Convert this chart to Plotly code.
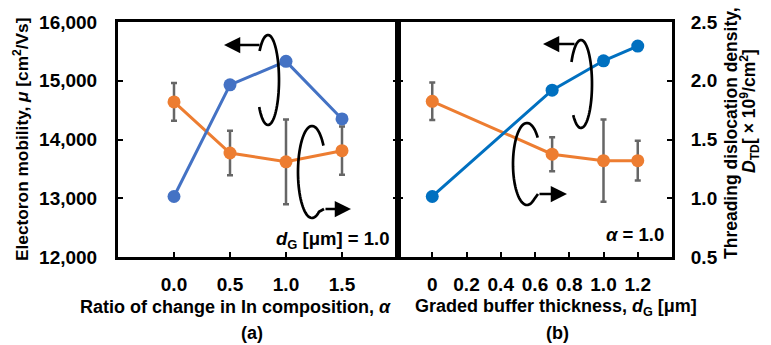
import math
import plotly.graph_objects as go

# ---------------- data ----------------
alpha = [0.0, 0.5, 1.0, 1.5]
mob_a = [13030, 14930, 15330, 14350]
tdd_a = [1.82, 1.385, 1.31, 1.405]
tdd_a_err = [0.16, 0.19, 0.36, 0.205]

dg = [0.0, 0.7, 1.0, 1.2]
mob_b = [13030, 14840, 15340, 15590]
tdd_b = [1.825, 1.375, 1.32, 1.32]
tdd_b_err = [0.16, 0.145, 0.35, 0.17]

mob_ticks = [12000, 13000, 14000, 15000, 16000]
tdd_ticks = [0.5, 1.0, 1.5, 2.0, 2.5]
alpha_ticks = [0.0, 0.5, 1.0, 1.5]
alpha_ticktext = ["0.0", "0.5", "1.0", "1.5"]
dg_ticks = [0.0, 0.2, 0.4, 0.6, 0.8, 1.0, 1.2]
dg_ticktext = ["0", "0.2", "0.4", "0.6", "0.8", "1.0", "1.2"]

# ---------------- layout helpers ----------------
W, H = 771, 345
L, R, T, B = 118, 99, 22, 88
PW, PH = W - L - R, H - T - B
SPLIT = (398 - L) / PW


def pp(x, y):
    return (x - L) / PW, (H - B - y) / PH


FONT = "Liberation Sans, Arial, sans-serif"
BLUE_A = "#4472C4"
BLUE_B = "#0070C0"
ORANGE = "#ED7D31"
GREY = "#666666"

fig = go.Figure()

# left panel
fig.add_trace(go.Scatter(x=alpha, y=tdd_a, xaxis="x", yaxis="y", mode="lines+markers",
                         line=dict(color=ORANGE, width=3), marker=dict(size=13, color=ORANGE),
                         error_y=dict(type="data", array=tdd_a_err, color=GREY, thickness=2.5, width=3),
                         showlegend=False))
fig.add_trace(go.Scatter(x=alpha, y=mob_a, xaxis="x", yaxis="y2", mode="lines+markers",
                         line=dict(color=BLUE_A, width=3), marker=dict(size=13, color=BLUE_A),
                         showlegend=False))
# right panel
fig.add_trace(go.Scatter(x=dg, y=tdd_b, xaxis="x2", yaxis="y3", mode="lines+markers",
                         line=dict(color=ORANGE, width=3), marker=dict(size=13, color=ORANGE),
                         error_y=dict(type="data", array=tdd_b_err, color=GREY, thickness=2.5, width=3),
                         showlegend=False))
fig.add_trace(go.Scatter(x=dg, y=mob_b, xaxis="x2", yaxis="y4", mode="lines+markers",
                         line=dict(color=BLUE_B, width=3), marker=dict(size=13, color=BLUE_B),
                         showlegend=False))

tickfont = dict(family=FONT, size=19, color="black", weight="bold")
axline = dict(showline=True, linecolor="black", linewidth=3, showgrid=False, zeroline=False,
              ticks="inside", ticklen=5, tickwidth=2, tickcolor="black")

fig.update_layout(
    width=W, height=H,
    margin=dict(l=L, r=R, t=T, b=B),
    paper_bgcolor="white", plot_bgcolor="white",
    font=dict(family=FONT, size=17, color="black", weight="bold"),
    xaxis=dict(domain=[0, SPLIT], range=[-0.5, 2.0], tickvals=alpha_ticks, ticktext=alpha_ticktext,
               mirror=True, tickfont=tickfont, ticklabelstandoff=8, **axline),
    yaxis=dict(range=[0.5, 2.5], anchor="x", visible=False),
    yaxis2=dict(range=[12000, 16000], anchor="x", overlaying="y", side="left", tickvals=mob_ticks,
                tickformat=",", mirror="ticks", tickfont=tickfont, ticklabelstandoff=14, **axline),
    xaxis2=dict(domain=[SPLIT, 1], range=[-0.2, 1.4], anchor="y3", tickvals=dg_ticks, ticktext=dg_ticktext,
                mirror=True, tickfont=tickfont, ticklabelstandoff=8, **axline),
    yaxis3=dict(range=[0.5, 2.5], anchor="x2", side="right", tickvals=tdd_ticks, tickformat=".1f",
                mirror="ticks", tickfont=tickfont, ticklabelstandoff=12, **axline),
    yaxis4=dict(range=[12000, 16000], anchor="x2", overlaying="y3", visible=False),
)


def ann(x, y, text, angle=0, xanchor="center", size=17):
    px_, py_ = pp(x, y)
    fig.add_annotation(x=px_, y=py_, xref="paper", yref="paper", text=text, showarrow=False,
                       textangle=angle, xanchor=xanchor, yanchor="middle",
                       font=dict(family=FONT, size=size, color="black", weight="bold"))


ann(21, 139, "Electoron mobility, <i>μ</i> [cm<sup>2</sup>/Vs]", angle=-90, size=17.3)
ann(731, 133, "Threading dislocation density,", angle=-90, size=17.5)
ann(749, 111, "<i>D</i><sub>TD</sub>[ × 10<sup>9</sup>/cm<sup>2</sup>]", angle=-90, size=17.5)
ann(235, 307, "Ratio of change in In composition, <i>α</i>", size=18)
ann(556, 307, "Graded buffer thickness, <i>d</i><sub>G</sub> [μm]", size=18)
ann(252, 333, "(a)", size=18)
ann(557, 333, "(b)", size=18)
ann(391, 240, "<i>d</i><sub>G</sub> [μm] = 1.0", xanchor="right", size=18.5)
ann(666, 234, "<i>α</i> = 1.0", xanchor="right", size=18.5)


def ellipse_path(cx, cy, rx, ry, t0, t1, tail=None, n=60):
    pts = []
    for i in range(n + 1):
        t = math.radians(t0 + (t1 - t0) * i / n)
        pts.append(pp(cx + rx * math.cos(t), cy + ry * math.sin(t)))
    if tail:
        pts.append(pp(*tail))
    s = "M {:.5f},{:.5f}".format(*pts[0])
    for p in pts[1:]:
        s += " L {:.5f},{:.5f}".format(*p)
    return s


def arrow(tip, tail):
    tx, ty = pp(*tip)
    fig.add_annotation(x=tx, y=ty, xref="paper", yref="paper", text="", showarrow=True,
                       ax=tail[0] - tip[0], ay=tail[1] - tip[1], axref="pixel", ayref="pixel",
                       arrowhead=2, arrowsize=1.3, arrowwidth=2.5, arrowcolor="black", standoff=0)


curves = [
    ellipse_path(268, 80, 11, 45, -140, 143),
    ellipse_path(581, 84, 11, 44, -150, 135),
    ellipse_path(312, 172, 14, 46, -35, -300, tail=(324, 209)),
    ellipse_path(527, 164, 14, 41, -40, -300, tail=(538, 194)),
]
for c in curves:
    fig.add_shape(type="path", path=c, xref="paper", yref="paper",
                  line=dict(color="black", width=2.7))

arrow((224, 45), (261, 45))
arrow((543, 44), (576, 44))
arrow((351, 209), (324, 209))
arrow((567, 194), (538, 194))

fig.write_html("out.html", config={"displayModeBar": False},
               post_script="document.body.style.margin='0';document.body.style.padding='0';")
